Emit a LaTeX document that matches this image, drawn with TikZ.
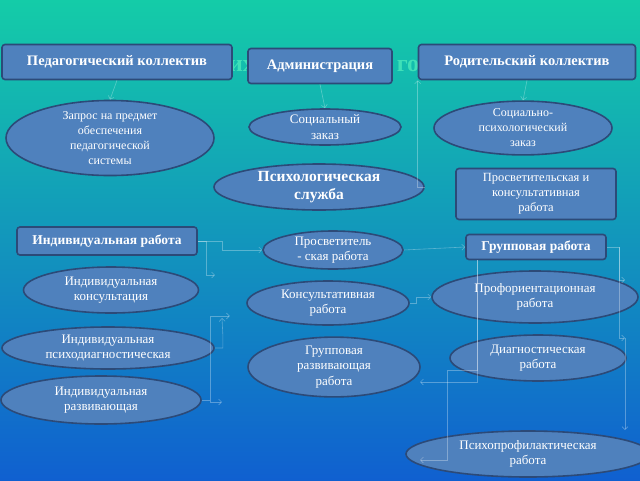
\documentclass[tikz,border=0pt]{standalone}
\usepackage{fontspec}
\setmainfont{Liberation Serif}
\usetikzlibrary{shapes.geometric,arrows.meta,calc}
\definecolor{nf}{HTML}{4F81BD}
\definecolor{nb}{HTML}{2C4A78}
\definecolor{bgt}{HTML}{14CCA8}
\definecolor{bgb}{HTML}{1060D0}
\definecolor{tt}{HTML}{3FE0B8}
\tikzset{
 box/.style={draw=nb,line width=1.6pt,fill=nf,rounded corners=3pt,text=white,font=\bfseries\fontsize{14.5}{17}\selectfont,align=center},
 ell/.style={ellipse,draw=nb,line width=1.6pt,fill=nf,text=white,font=\fontsize{13}{15.5}\selectfont,align=center,inner sep=0pt},
 conn/.style={draw=white,opacity=0.3,line width=0.6pt,-{Straight Barb[length=3pt]}}
}
\begin{document}
\begin{tikzpicture}[x=1pt,y=-1pt]
\shade[top color=bgt,bottom color=bgb] (0,0) rectangle (640,480);
\useasboundingbox (0,0) rectangle (640,480);
\node[text=tt,font=\bfseries\fontsize{24}{26}\selectfont] (t1) at (242,66) {их};
\node[text=tt,font=\bfseries\fontsize{24}{26}\selectfont] (t2) at (408,66) {го};
% top boxes
\node[box,minimum width=230,minimum height=35] (ped) at (117,62) {Педагогический коллектив};
\node[box,minimum width=144,minimum height=35] (adm) at (320,66) {Администрация};
\node[box,minimum width=217,minimum height=35] (rod) at (527,62) {Родительский коллектив};
% ellipses
\node[ell,minimum width=208,minimum height=68,font=\fontsize{12}{15}\selectfont] (zap) at (110,138) {Запрос на предмет\\обеспечения\\педагогической\\системы};
\node[ell,minimum width=152,minimum height=36] (soc) at (325,127) {Социальный\\заказ};
\node[ell,minimum width=178,minimum height=48,font=\fontsize{12}{15}\selectfont] (spz) at (523,128) {Социально-\\психологический\\заказ};
\node[ell,minimum width=210,minimum height=46,font=\bfseries\fontsize{15.5}{18}\selectfont] (ps) at (319,187) {Психологическая\\служба};
\node[box,minimum width=160,minimum height=51,font=\fontsize{12.5}{15}\selectfont] (pk) at (536,194) {Просветительская и\\консультативная\\работа};
\node[box,minimum width=180,minimum height=28,font=\bfseries\fontsize{13.5}{15}\selectfont] (ind) at (107,241) {Индивидуальная работа};
\node[ell,minimum width=140,minimum height=38] (pr) at (333,250) {Просветитель\\- ская работа};
\node[box,minimum width=140,minimum height=25,font=\bfseries\fontsize{13.5}{15}\selectfont] (gr) at (536,247) {Групповая работа};
\node[ell,minimum width=175,minimum height=46] (ik) at (111,290) {Индивидуальная\\консультация};
\node[ell,minimum width=162,minimum height=44] (kr) at (328,303) {Консультативная\\работа};
\node[ell,minimum width=206,minimum height=52] (prof) at (535,297) {Профориентационная\\работа};
\node[ell,minimum width=212,minimum height=42] (ipd) at (108,348) {Индивидуальная\\психодиагностическая};
\node[ell,minimum width=172,minimum height=54] (grr) at (334,367) {Групповая\\развивающая\\работа};
\node[ell,minimum width=176,minimum height=46] (dr) at (538,358) {Диагностическая\\работа};
\node[ell,minimum width=200,minimum height=48] (ir) at (101,400) {Индивидуальная\\развивающая};
\node[ell,minimum width=244,minimum height=46] (ppf) at (528,454) {Психопрофилактическая\\работа};
% connectors
\coordinate (a1) at (215,275);
\coordinate (a2) at (222,318);
\coordinate (a3) at (222,402);
\coordinate (b1) at (625,280);
\coordinate (b2) at (625,338);
\coordinate (b3) at (625,430);
\coordinate (d1) at (420,382);
\coordinate (d2) at (420,460);
\draw[conn] (ped.south) -- (zap.north);
\draw[conn] (adm.south) -- (soc.north);
\draw[conn] (rod.south) -- (spz.north);
\draw[conn] (ps.east) -| (rod.south west);
\draw[conn] (ind.east) -| ($(pr.west)+(-40,0)$) |- (pr.west);
\draw[conn] (ind.east) -| ($(ind.east)+(8,0)$) |- (a1);
\draw[conn] (ipd.east) -| ($(ipd.east)+(8,-14)$) -- (a2);
\draw[conn] (ir.east) -| ($(ir.east)+(8,0)$) |- (a3);
\draw[conn] ($(ir.east)+(8,0)$) |- ++(20,-84);
\draw[conn] (pr.east) -- (gr.west);
\draw[conn] (kr.east) -| ($(kr.east)+(6,0)$) |- (prof.west);
\draw[conn] ($(gr.south west)+(12,0)$) |- (d1);
\draw[conn] ($(gr.south west)+(12,0)$) -- ++(0,110) -| ++(-30,0) |- (d2);
\draw[conn] (gr.east) -| ($(gr.east)+(12,0)$) |- (b1);
\draw[conn] ($(gr.east)+(12,0)$) |- (b2);
\draw[conn] (b2) -- (b3);
\end{tikzpicture}
\end{document}
